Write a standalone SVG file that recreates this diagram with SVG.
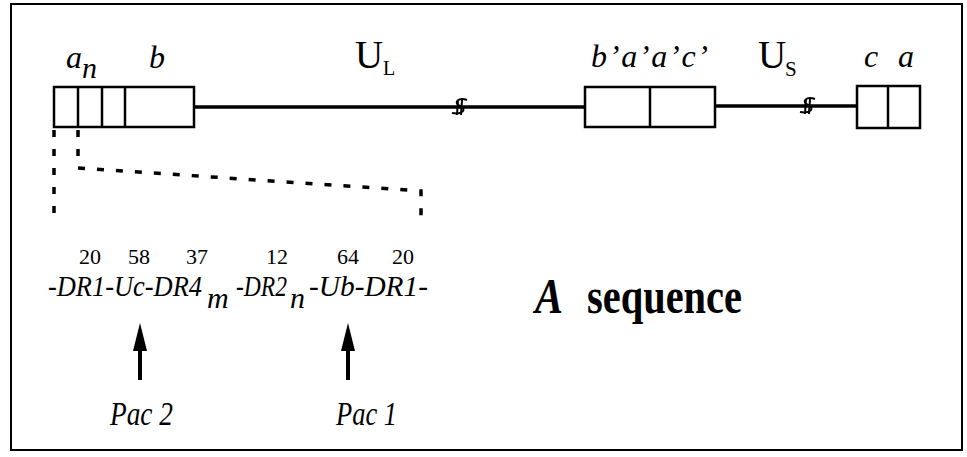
<svg xmlns="http://www.w3.org/2000/svg" width="967" height="457" viewBox="0 0 967 457">
<style>
  .frame{fill:none;stroke:#000;stroke-width:2}
  .box{fill:#fff;stroke:#000;stroke-width:2.5}
  .div{stroke:#000;stroke-width:2.5}
  .line{stroke:#000;stroke-width:3.5;fill:none}
  .dash{stroke:#000;stroke-width:3.5;fill:none;stroke-dasharray:7 12}
  .brk{stroke:#000;stroke-width:2;fill:none}
  .arrow{stroke:#000;stroke-width:4;fill:none}
  text{font-family:'Liberation Serif','DejaVu Serif','Noto Serif',serif;fill:#000}
  .it{font-style:italic}
  .bd{font-weight:bold}
</style>
<defs>
  <marker id="head" markerUnits="userSpaceOnUse" viewBox="0 0 28 14" markerWidth="28" markerHeight="14" refX="1" refY="7" orient="auto">
    <path d="M0,0 L28,7 L0,14 Z" fill="#000"/>
  </marker>
</defs>
<rect class="frame" x="11" y="4" width="951" height="446"/>

<g id="connectors">
  <line class="line" x1="194" y1="107" x2="585" y2="107"/>
  <line class="line" x1="715" y1="106" x2="857" y2="106"/>
  <path class="dash" d="M54,130 L54,222"/>
  <path class="dash" d="M78,130 L78,168 L421,191 L421,222"/>
  <line class="arrow" x1="140" y1="380" x2="140" y2="350" marker-end="url(#head)"/>
  <line class="arrow" x1="348" y1="380" x2="348" y2="350" marker-end="url(#head)"/>
</g>

<g id="break-left">
  <path class="brk" d="M467,100 C458,97 453,103 460,106 C467,109 463,115 452,113"/>
  <line class="brk" x1="458" y1="100" x2="457" y2="115"/>
  <line class="brk" x1="462" y1="100" x2="461" y2="115"/>
</g>
<g id="break-right">
  <path class="brk" d="M815,99 C806,96 801,102 808,105 C815,108 811,114 800,112"/>
  <line class="brk" x1="806" y1="99" x2="805" y2="114"/>
  <line class="brk" x1="810" y1="99" x2="809" y2="114"/>
</g>

<g id="node-left">
  <rect class="box" x="54" y="87" width="140" height="40"/>
  <line class="div" x1="78" y1="87" x2="78" y2="127"/>
  <line class="div" x1="102" y1="87" x2="102" y2="127"/>
  <line class="div" x1="125" y1="87" x2="125" y2="127"/>
  <text class="it" x="66" y="68" font-size="32">a<tspan x="82" y="78" font-size="30">n</tspan></text>
  <text class="it" x="149" y="68" font-size="32">b</text>
</g>

<g id="label-UL">
  <text x="355" y="68" font-size="39">U<tspan x="383" y="75" font-size="20">L</tspan></text>
</g>

<g id="node-middle">
  <rect class="box" x="585" y="87" width="130" height="40"/>
  <line class="div" x1="650" y1="87" x2="650" y2="127"/>
  <text class="it" x="591" y="67" font-size="32" textLength="117" lengthAdjust="spacing">b’a’a’c’</text>
</g>

<g id="label-US">
  <text x="758" y="68" font-size="39">U<tspan x="785" y="76" font-size="21">S</tspan></text>
</g>

<g id="node-right">
  <rect class="box" x="857" y="86" width="63" height="42"/>
  <line class="div" x1="888" y1="86" x2="888" y2="128"/>
  <text class="it" x="864" y="67" font-size="32">c</text>
  <text class="it" x="898" y="67" font-size="32">a</text>
</g>

<g id="numbers">
  <text font-size="22" y="264" text-anchor="middle">
    <tspan x="90">20</tspan><tspan x="139">58</tspan><tspan x="197">37</tspan><tspan x="277">12</tspan><tspan x="348">64</tspan><tspan x="403">20</tspan>
  </text>
</g>

<g id="sequence">
  <text class="it" font-size="30"><tspan x="48" y="296" textLength="154" lengthAdjust="spacingAndGlyphs">-DR1-Uc-DR4</tspan><tspan x="207" y="308">m</tspan><tspan x="236" y="296" textLength="51" lengthAdjust="spacingAndGlyphs">-DR2</tspan><tspan x="290" y="308">n</tspan><tspan x="309" y="296" textLength="119" lengthAdjust="spacingAndGlyphs">-Ub-DR1-</tspan></text>
</g>

<g id="pac2">
  <text class="it" x="110" y="425" font-size="34" textLength="63" lengthAdjust="spacingAndGlyphs">Pac 2</text>
</g>
<g id="pac1">
  <text class="it" x="336" y="425" font-size="34" textLength="61" lengthAdjust="spacingAndGlyphs">Pac 1</text>
</g>

<g id="title">
  <text class="it bd" x="535" y="313" font-size="50" textLength="28" lengthAdjust="spacingAndGlyphs">A</text>
  <text class="bd" x="587" y="313" font-size="50" textLength="155" lengthAdjust="spacingAndGlyphs">sequence</text>
</g>
</svg>
